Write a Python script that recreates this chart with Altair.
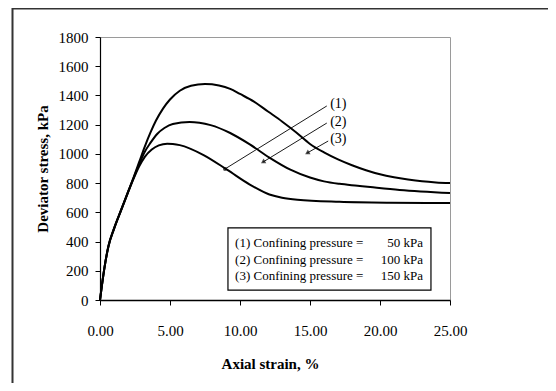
import altair as alt
import pandas as pd

# ---- data ----
x_50 = [0, 0.3, 0.6, 1.0, 1.5, 2.0, 2.4, 2.8, 3.2, 3.7, 4.2, 4.8, 5.2, 5.7, 7.4, 9.1, 10.7, 12.1, 13.0, 14.1, 17.1, 20.7, 25]
y_50 = [0, 210, 365, 485, 612, 735, 830, 915, 980, 1030, 1058, 1070, 1068, 1060, 992, 890, 790, 722, 700, 686, 672, 666, 664]

x_100 = [0, 0.3, 0.6, 1.0, 1.5, 2.0, 2.4, 2.8, 3.2, 3.6, 4.1, 4.6, 5.2, 6.4, 7.1, 7.9, 9.3, 10.7, 12.1, 13.6, 15.0, 16.0, 17.1, 18.4, 19.3, 21.4, 25]
y_100 = [0, 210, 367, 487, 613, 738, 835, 930, 1015, 1075, 1138, 1177, 1205, 1218, 1213, 1197, 1143, 1065, 975, 892, 838, 812, 795, 782, 773, 753, 732]

x_150 = [0, 0.3, 0.6, 1.0, 1.5, 2.0, 2.4, 2.8, 3.2, 3.6, 4.0, 4.5, 5.0, 5.7, 6.5, 7.5, 8.5, 9.3, 10.0, 11.0, 12.0, 13.0, 14.0, 15.0, 16.0, 17.0, 18.0, 19.0, 20.0, 21.0, 22.0, 23.0, 24.0, 25]
y_150 = [0, 210, 370, 490, 615, 740, 840, 945, 1050, 1145, 1228, 1310, 1372, 1432, 1466, 1478, 1468, 1445, 1410, 1358, 1290, 1222, 1148, 1068, 1010, 962, 922, 888, 860, 840, 825, 813, 805, 800]

x_ticks = [0, 5, 10, 15, 20, 25]
y_ticks = [0, 200, 400, 600, 800, 1000, 1200, 1400, 1600, 1800]

# callout labels (1),(2),(3): label position, line start, line end (data units)
call_labels = ["(1)", "(2)", "(3)"]
call_label_x = [16.3, 16.3, 16.3]
call_label_y = [1341, 1218, 1102]
call_x0 = [16.2, 16.2, 16.3]
call_y0 = [1328, 1211, 1088]
call_x1 = [8.93, 11.64, 14.8]
call_y1 = [897, 944, 1006]
call_angle = [0, 239, 240]

legend_left = ["(1) Confining pressure =", "(2) Confining pressure =", "(3) Confining pressure ="]
legend_right = ["50 kPa", "100 kPa", "150 kPa"]
legend_y = [390, 274, 164]
legend_box = {"x": 9.14, "x2": 23.64, "y": 493, "y2": 68}
legend_text_x0 = 9.65
legend_text_x1 = 23.07

FONT = "Liberation Serif"

# ---- tables ----
rows = []
for name, xs_, ys_ in [("50", x_50, y_50), ("100", x_100, y_100), ("150", x_150, y_150)]:
    for i, (a, b) in enumerate(zip(xs_, ys_)):
        rows.append({"series": name, "idx": i, "x": a, "y": b})
curves = pd.DataFrame(rows)

lrows = []
for i in range(3):
    lrows.append({"id": i, "idx": 0, "x": call_x0[i], "y": call_y0[i]})
    lrows.append({"id": i, "idx": 1, "x": call_x1[i], "y": call_y1[i]})
lines_df = pd.DataFrame(lrows)

ends_df = pd.DataFrame({"x": call_x1, "y": call_y1, "angle": call_angle, "id": [0, 1, 2]})
lab_df = pd.DataFrame({"x": call_label_x, "y": call_label_y, "t": call_labels})
legl_df = pd.DataFrame({"t": legend_left, "y": legend_y, "x": [legend_text_x0] * 3})
legr_df = pd.DataFrame({"t": legend_right, "y": legend_y, "x": [legend_text_x1] * 3})
box_df = pd.DataFrame([legend_box])

xs = alt.Scale(domain=[0, 25], nice=False, zero=False)
ys = alt.Scale(domain=[0, 1800], nice=False)

x_axis = alt.Axis(
    values=x_ticks, format=".2f", title="Axial strain, %", grid=False, labelOverlap=False,
    labelFlush=False, domainColor="black", domainWidth=1.6, tickColor="black", tickSize=5,
    labelFont=FONT, labelFontSize=15, labelColor="black", labelPadding=18,
    labelBaseline="top", titleFont=FONT, titleFontSize=15, titleFontWeight="bold",
    titleColor="black", titleX=170, titleY=63, titleBaseline="middle", titleAlign="center")
y_axis = alt.Axis(
    values=y_ticks, format="d", title="Deviator stress, kPa", grid=False, labelOverlap=False,
    labelFlush=False, domainColor="black", domainWidth=1.2, tickColor="black", tickSize=5,
    labelFont=FONT, labelFontSize=15, labelColor="black", labelPadding=7,
    titleFont=FONT, titleFontSize=15, titleFontWeight="bold", titleColor="black",
    titleX=-58, titleY=131.5, titleBaseline="middle", titleAlign="center", titleAngle=270)

X = alt.X("x:Q", scale=xs, axis=x_axis)
Y = alt.Y("y:Q", scale=ys, axis=y_axis)

base_curves = alt.Chart(curves).mark_line(
    interpolate="monotone", color="black", strokeWidth=2
).encode(x=X, y=Y, detail="series:N", order="idx:Q")

box = alt.Chart(box_df).mark_rect(fill="white", stroke="black", strokeWidth=1.2).encode(
    x=X, x2="x2:Q", y=Y, y2="y2:Q")

leg_l = alt.Chart(legl_df).mark_text(align="left", baseline="middle", font=FONT,
                                     fontSize=13, color="black").encode(
    x=X, y=Y, text="t:N")
leg_r = alt.Chart(legr_df).mark_text(align="right", baseline="middle", font=FONT,
                                     fontSize=13, color="black").encode(
    x=X, y=Y, text="t:N")

call_lines = alt.Chart(lines_df).mark_line(color="black", strokeWidth=0.9).encode(
    x=X, y=Y, detail="id:N", order="idx:Q")
heads = alt.Chart(ends_df).transform_filter("datum.id > 0").mark_point(
    shape="triangle-up", filled=True, color="black", size=28, strokeWidth=0).encode(
    x=X, y=Y, angle=alt.Angle("angle:Q", scale=None))
dot = alt.Chart(ends_df).transform_filter("datum.id == 0").mark_point(
    shape="circle", filled=True, color="black", size=16, strokeWidth=0).encode(
    x=X, y=Y)
call_text = alt.Chart(lab_df).mark_text(align="left", baseline="middle", font=FONT,
                                        fontSize=14, color="black", dx=2).encode(
    x=X, y=Y, text="t:N")

frame_top = alt.Chart(box_df).mark_rule(color="#333333", strokeWidth=3).encode(
    x=alt.value(-88), x2=alt.value(448), y=alt.value(-29))
frame_left = alt.Chart(box_df).mark_rule(color="#333333", strokeWidth=2).encode(
    x=alt.value(-87.5), y=alt.value(-29), y2=alt.value(346))

chart = alt.layer(
    frame_top, frame_left, base_curves, box, leg_l, leg_r, call_lines, heads, dot, call_text
).properties(
    width=350, height=263,
    autosize=alt.AutoSizeParams(type="none"),
    padding={"left": 92, "top": 29, "right": 98, "bottom": 83},
    background="white",
).configure_view(stroke="#9a9a9a", strokeWidth=1)

chart.save("out.html", embed_options={"renderer": "svg", "actions": False})
